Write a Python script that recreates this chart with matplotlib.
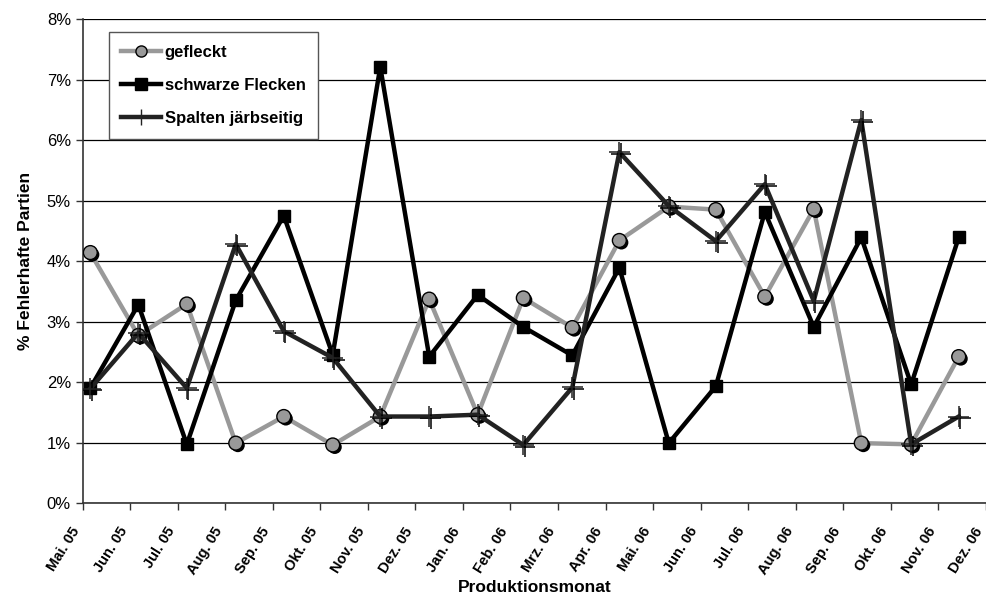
import numpy as np
import matplotlib.pyplot as plt
import matplotlib.patheffects as pe

plt.rcParams['font.family'] = ['Liberation Sans', 'DejaVu Sans']

# Monatsachse
monate = ['Mai. 05', 'Jun. 05', 'Jul. 05', 'Aug. 05', 'Sep. 05', 'Okt. 05',
          'Nov. 05', 'Dez. 05', 'Jan. 06', 'Feb. 06', 'Mrz. 06', 'Apr. 06',
          'Mai. 06', 'Jun. 06', 'Jul. 06', 'Aug. 06', 'Sep. 06', 'Okt. 06',
          'Nov. 06', 'Dez. 06']
# Lage der Messpunkte (in Monaten ab Mai 05)
messung = [0.16, 1.17, 2.19, 3.22, 4.23, 5.26, 6.26, 7.29, 8.31, 9.27,
           10.30, 11.29, 12.33, 13.32, 14.35, 15.38, 16.38, 17.43, 18.43]

# Anteile in %
gefleckt = [4.14, 2.77, 3.29, 0.99, 1.43, 0.96, 1.43, 3.37, 1.46, 3.39,
            2.90, 4.34, 4.90, 4.85, 3.41, 4.86, 0.99, 0.97, 2.42]
schwarz = [1.90, 3.28, 0.97, 3.35, 4.75, 2.45, 7.21, 2.42, 3.44, 2.91,
           2.44, 3.89, 0.99, 1.93, 4.81, 2.91, 4.39, 1.96, 4.39]
spalten = [1.89, 2.81, 1.90, 4.28, 2.84, 2.40, 1.43, 1.43, 1.46, 0.96,
           1.91, 5.80, 4.91, 4.33, 5.27, 3.34, 6.33, 0.97, 1.43]

fig = plt.figure(figsize=(9.87, 5.96), dpi=100)
ax = fig.add_axes([0.0838, 0.156, 0.915, 0.812])

schatten_fl = [pe.SimplePatchShadow(offset=(1.5, -1.5), shadow_rgbFace='black', alpha=1), pe.Normal()]
schatten_li = [pe.SimpleLineShadow(offset=(1.2, -1.2), shadow_color='black', alpha=1), pe.Normal()]

# gefleckt
ax.plot(messung, gefleckt, color='#999999', lw=3.2, zorder=3)
ax.plot(messung, gefleckt, ls='none', marker='o', ms=10, mfc='#999999', mec='black',
        mew=1, zorder=4, path_effects=schatten_fl)
# schwarze Flecken
ax.plot(messung, schwarz, color='black', lw=3.2, marker='s', ms=8.5, mfc='black',
        mec='black', zorder=5)
# Spalten
ax.plot(messung, spalten, color='#222222', lw=3.2, zorder=6)
ax.plot(messung, spalten, ls='none', marker='+', ms=15, mec='#222222', mew=1.1,
        zorder=7, path_effects=schatten_li)

# Legende
h1, = ax.plot([], [], color='#999999', lw=3.2, marker='o', ms=8, mfc='#999999', mec='black')
h2, = ax.plot([], [], color='black', lw=3.2, marker='s', ms=8, mfc='black')
h3, = ax.plot([], [], color='#222222', lw=3.2, marker='+', ms=12, mec='#222222')
leg = ax.legend([h1, h2, h3], ['gefleckt', 'schwarze Flecken', 'Spalten järbseitig'],
                loc='upper left', bbox_to_anchor=(0.029, 0.973), borderaxespad=0,
                fancybox=False, framealpha=1, edgecolor='#555555',
                prop={'weight': 'bold', 'size': 12}, handlelength=2.4,
                handletextpad=0.2, labelspacing=1.1, borderpad=0.75)
leg.get_frame().set_linewidth(1.0)

ax.set_xlim(0, 19)
ax.set_ylim(0, 8)
ax.set_xticks(np.arange(len(monate)))
ax.set_xticklabels(monate, rotation=58, ha='right', va='bottom', rotation_mode='anchor',
                   fontsize=10.5, fontweight='bold')
ax.set_yticks(np.arange(0, 9))
ax.set_yticklabels([f'{v}%' for v in range(9)], fontsize=12)
ax.yaxis.grid(True, color='black', lw=0.9)
ax.set_axisbelow(True)
ax.tick_params(axis='both', direction='out', length=5, color='#333333', width=1)
ax.tick_params(axis='x', pad=16)
for s in ['top', 'right']:
    ax.spines[s].set_visible(False)
for s in ['left', 'bottom']:
    ax.spines[s].set_color('#333333')
    ax.spines[s].set_linewidth(1.2)

ax.set_xlabel('Produktionsmonat', fontsize=12.5, fontweight='bold', labelpad=2)
ax.set_ylabel('% Fehlerhafte Partien', fontsize=12.5, fontweight='bold', labelpad=10)

plt.savefig('out.png', dpi=100)
